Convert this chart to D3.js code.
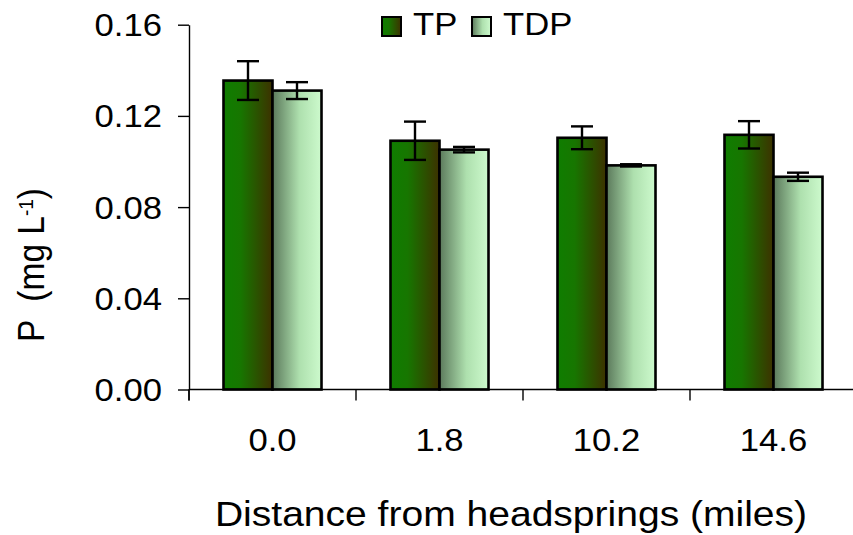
<!DOCTYPE html>
<html>
<head>
<meta charset="utf-8">
<script src="https://cdn.jsdelivr.net/npm/d3@7"></script>
<style>
  html, body { margin: 0; padding: 0; background: #fff; }
  svg { display: block; }
  text { font-family: "Liberation Sans", Arial, sans-serif; fill: #000; white-space: pre; }
</style>
</head>
<body>
<svg id="chart" width="853" height="535"></svg>
<script>
// Phosphorus concentrations by distance from the headsprings
const categories = ["0.0", "1.8", "10.2", "14.6"];
const seriesNames = ["TP", "TDP"];
const tpMeans = [0.1355, 0.1091, 0.1104, 0.1117];
const tpErrors = [0.0085, 0.0084, 0.0050, 0.0060];
const tdpMeans = [0.1311, 0.1052, 0.0983, 0.0933];
const tdpErrors = [0.0037, 0.0012, 0.0005, 0.0018];
const yTickValues = [0, 0.04, 0.08, 0.12, 0.16];

const svg = d3.select("#chart");
const sx = 1.1; // horizontal text stretch

const plotLeft = 189, plotRight = 857, plotTop = 24.7, plotBottom = 389.5;

const x = d3.scaleBand().domain(categories).range([plotLeft, plotRight]).padding(0);
const xInner = d3.scaleBand().domain(seriesNames).range([0, x.bandwidth()])
  .paddingInner(0).paddingOuter(0.704);
const y = d3.scaleLinear().domain([0, 0.16]).range([plotBottom, plotTop]);

// gradients for the bar fills
const defs = svg.append("defs");
const gradients = {
  TP: [["0%", "#0f7d00"], ["35%", "#177600"], ["100%", "#3d3100"]],
  TDP: [["0%", "#5b795b"], ["55%", "#aee0ae"], ["100%", "#cdfacd"]]
};
Object.entries(gradients).forEach(([name, stops]) => {
  const g = defs.append("linearGradient").attr("id", "grad-" + name)
    .attr("x1", "0%").attr("x2", "100%").attr("y1", "0%").attr("y2", "0%");
  stops.forEach(([o, c]) => g.append("stop").attr("offset", o).attr("stop-color", c));
});

const rows = categories.map((c, i) => ({
  category: c,
  values: [
    { name: "TP", mean: tpMeans[i], err: tpErrors[i] },
    { name: "TDP", mean: tdpMeans[i], err: tdpErrors[i] }
  ]
}));

// y axis
const yAxis = svg.append("g").attr("transform", `translate(${plotLeft},0)`)
  .call(d3.axisLeft(y).tickValues(yTickValues).tickSize(11).tickSizeOuter(0)
    .tickFormat(d3.format(".2f")));
yAxis.select(".domain").attr("stroke", "#000").attr("stroke-width", 1.4);
yAxis.selectAll(".tick line").attr("stroke", "#000").attr("stroke-width", 1.4);
yAxis.selectAll(".tick text")
  .attr("x", 0).attr("dy", "0.35em")
  .attr("transform", `translate(-27,0) scale(${sx},1)`)
  .style("font-size", "31.5px").style("font-family", "'Liberation Sans', Arial, sans-serif");

// y axis extends below the baseline to the first category tick
svg.append("line").attr("x1", plotLeft).attr("x2", plotLeft)
  .attr("y1", plotBottom).attr("y2", plotBottom + 11)
  .attr("stroke", "#000").attr("stroke-width", 1.4);

// bars
const groups = svg.append("g").selectAll("g").data(rows).join("g")
  .attr("transform", d => `translate(${x(d.category)},0)`);

groups.selectAll("rect").data(d => d.values).join("rect")
  .attr("x", d => xInner(d.name))
  .attr("y", d => y(d.mean))
  .attr("width", xInner.bandwidth())
  .attr("height", d => y(0) - y(d.mean))
  .attr("fill", d => `url(#grad-${d.name})`)
  .attr("stroke", "#000").attr("stroke-width", 2.6);

// error bars
const capHalf = 11;
const eb = groups.selectAll("g.err").data(d => d.values).join("g").attr("class", "err")
  .attr("stroke", "#000").attr("stroke-width", 2.4);
eb.append("line")
  .attr("x1", d => xInner(d.name) + xInner.bandwidth() / 2)
  .attr("x2", d => xInner(d.name) + xInner.bandwidth() / 2)
  .attr("y1", d => y(d.mean + d.err)).attr("y2", d => y(d.mean - d.err));
eb.append("line")
  .attr("x1", d => xInner(d.name) + xInner.bandwidth() / 2 - capHalf)
  .attr("x2", d => xInner(d.name) + xInner.bandwidth() / 2 + capHalf)
  .attr("y1", d => y(d.mean + d.err)).attr("y2", d => y(d.mean + d.err));
eb.append("line")
  .attr("x1", d => xInner(d.name) + xInner.bandwidth() / 2 - capHalf)
  .attr("x2", d => xInner(d.name) + xInner.bandwidth() / 2 + capHalf)
  .attr("y1", d => y(d.mean - d.err)).attr("y2", d => y(d.mean - d.err));

// x axis line with ticks at category boundaries
svg.append("line").attr("x1", plotLeft).attr("x2", 853)
  .attr("y1", plotBottom).attr("y2", plotBottom)
  .attr("stroke", "#000").attr("stroke-width", 1.4);
svg.append("g").selectAll("line").data(categories).join("line")
  .attr("x1", d => x(d)).attr("x2", d => x(d))
  .attr("y1", plotBottom).attr("y2", plotBottom + 11)
  .attr("stroke", "#000").attr("stroke-width", 1.4);

// category labels
svg.append("g").selectAll("text").data(categories).join("text")
  .attr("text-anchor", "middle")
  .attr("transform", d => `translate(${x(d) + x.bandwidth() / 2},451) scale(${sx},1)`)
  .style("font-size", "31.5px")
  .text(d => d);

// x axis title
svg.append("text")
  .attr("text-anchor", "middle")
  .attr("transform", `translate(511,526) scale(${sx},1)`)
  .style("font-size", "35.5px")
  .text("Distance from headsprings (miles)");

// y axis title
const yTitle = svg.append("text")
  .attr("text-anchor", "middle")
  .attr("transform", `translate(44,265) scale(${sx},1) rotate(-90)`)
  .style("font-size", "33.5px");
yTitle.append("tspan").text("P  (mg L");
yTitle.append("tspan").attr("dy", "-0.55em").style("font-size", "19px").text("-1");
yTitle.append("tspan").attr("dy", "0.32em").text(")");

// legend
const legend = svg.append("g").selectAll("g")
  .data([{ name: "TP", x: 382, tx: 413 }, { name: "TDP", x: 472, tx: 503 }])
  .join("g");
legend.append("rect")
  .attr("x", d => d.x).attr("y", 17).attr("width", 19).attr("height", 19)
  .attr("fill", d => `url(#grad-${d.name})`)
  .attr("stroke", "#000").attr("stroke-width", 2);
legend.append("text")
  .attr("transform", d => `translate(${d.tx},35) scale(${sx},1)`)
  .style("font-size", "31.5px")
  .text(d => d.name);
</script>
</body>
</html>
